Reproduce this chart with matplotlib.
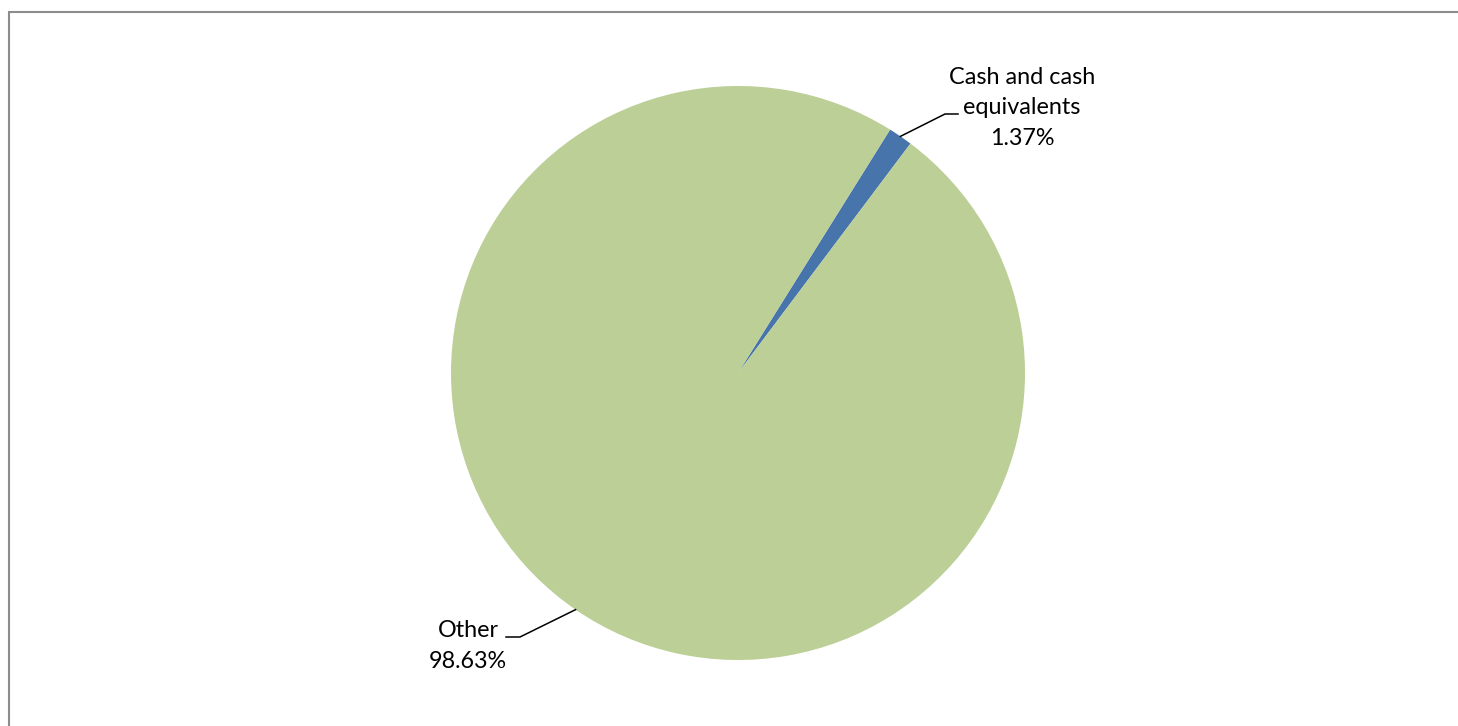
import numpy as np
import matplotlib.pyplot as plt
from matplotlib.patches import Rectangle

# data
labels = ["Cash and cash\nequivalents", "Other"]
values = [1.37, 98.63]
colors = ["#4674AB", "#BBCF97"]

W, H = 1458, 726
fig = plt.figure(figsize=(W / 100, H / 100), dpi=100)
ax = fig.add_axes([0, 0, 1, 1])

# chart frame
fig.patches.append(Rectangle((9 / W, -0.1), 1.2, (H - 12) / H + 0.1,
                             transform=fig.transFigure, fill=False,
                             edgecolor="#8C8C8C", linewidth=1.5))

cx, cy, r = 738, H - 373, 287
wedges, _ = ax.pie(values, colors=colors, startangle=58, counterclock=False,
                   center=(cx, cy), radius=r, frame=True,
                   wedgeprops=dict(linewidth=0))
ax.set_xlim(0, W)
ax.set_ylim(0, H)
ax.set_aspect("equal")
ax.axis("off")

# label layout: elbow point, end of horizontal, text position
layout = [
    dict(elbow=(945, H - 114), end=(958, H - 114), text=(1022, H - 108)),
    dict(elbow=(520, H - 637), end=(506, H - 637), text=(468, H - 646)),
]
for w, lab, v, lay in zip(wedges, labels, values, layout):
    mid = np.deg2rad((w.theta1 + w.theta2) / 2)
    p0 = (cx + r * np.cos(mid), cy + r * np.sin(mid))
    xs = [p0[0], lay["elbow"][0], lay["end"][0]]
    ys = [p0[1], lay["elbow"][1], lay["end"][1]]
    ax.plot(xs, ys, color="black", linewidth=1.1)
    ax.text(lay["text"][0], lay["text"][1], f"{lab}\n{v:.2f}%", ha="center",
            va="center", fontsize=16.8, family="Lato", linespacing=1.55)

fig.savefig("out.png", dpi=100)
